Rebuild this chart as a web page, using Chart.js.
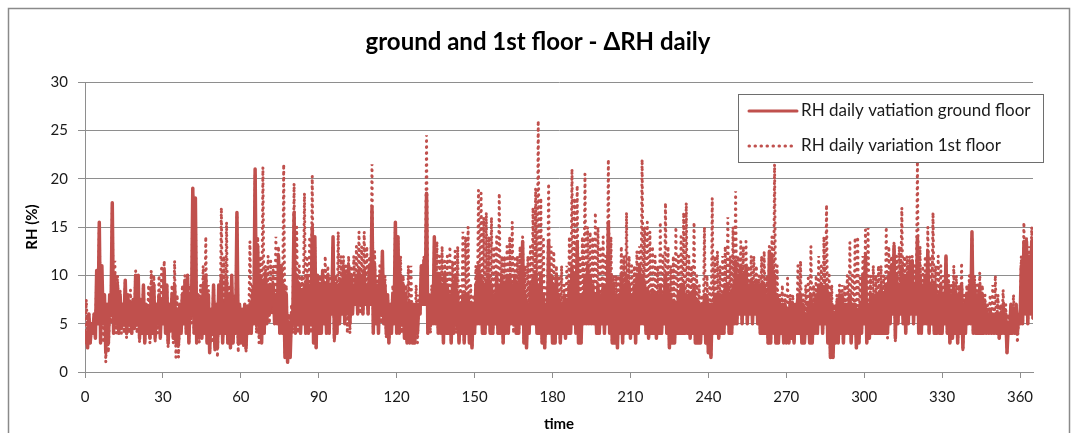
<!DOCTYPE html>
<html>
<head>
<meta charset="utf-8">
<script src="https://cdn.jsdelivr.net/npm/chart.js@4.4.1/dist/chart.umd.min.js"></script>
<style>
  html, body { margin: 0; padding: 0; background: #ffffff; }
  #wrap { width: 1074px; height: 433px; position: relative; }
</style>
</head>
<body>
<div id="wrap"><canvas id="c" width="1074" height="433"></canvas></div>
<script>
// Daily relative-humidity swing (%) over one year, two samples per day.
const chartTitle = 'ground and 1st floor - ΔRH daily';
const seriesNames = ['RH daily vatiation ground floor', 'RH daily variation 1st floor'];
const axisTitles = { x: 'time', y: 'RH (%)' };
const samplesPerDay = 2;
const dayTicks = [0, 30, 60, 90, 120, 150, 180, 210, 240, 270, 300, 330, 360];

const ground = [
  3,4,2.5,6,3,5,4,6,3.5,10.5,5,15.5,
  3,11,5,8,2,7,3,8,6,17.5,
  4,10,5,9,4,8,4.5,7,5,9.5,
  4,8,5,7,4,7.5,4.5,10,5,10,
  3.5,7.5,4,9,3,7,4,6.5,3.5,8.5,
  4,9,3.5,7,5,8,3.5,7.5,5,10.5,
  4,9,3,7,4.5,8,3.5,9,3,6.5,
  3,7,4,8,5,9.5,4,10,3,8,
  6,19,4,18,3,8,4,7.5,3.5,9,
  4,10,3,8,2,6.5,4,9,2.5,7,
  2.5,9,4,10,3,7,4,9.5,3,8,
  2.5,10,3,7,4,16.5,3,7,3,6.5,
  3,7,2.5,6.5,4,7,4,8,5,21,
  5,13,4,10,3,9.5,4,10,5,9,
  6,9,7,9,5,8,5,12,4,11,
  4,9,1.5,8,1,5,1.5,6,5,16.5,
  4,10,5,9,4,8.5,5,9,4,10,
  4,9,5,15,3,14,2.5,10,4,9,
  4,10.5,5,9,4,10,4,9,6,14,
  3.5,9,4,9,5,9.5,6,11,5,10,
  6,11,5,10,6,9,7,10,6,10.5,
  7,10,6,10.5,7,9,6,11,7,17,
  4,11,5,9,4,10,6,12.5,5,9,
  4,8,3,7,4,8,5,15.5,4,14,
  4,10,5,9,3.5,8,3,7,3,7,
  3,7,3,7,4,7,6,11,7,11.5,
  7,18.5,4,8,5,8,5,14,5,10,
  4,10,4,9,3,10,4,9,4,8,
  3,9,4,10,5,8,3,7,4,8,
  3,8,4,8,3,7,2.5,7,4,9,
  5,11,5,10,4,9,4,9.5,5,10,
  4,9,4,8,5,10,4,9,4,10,
  3,9,4,10,4,10,5,9,5,10,
  4,9,4,10.5,5,13.5,3,8,2.5,7,
  4,9,5,10,5,10,4,9,4,10,
  3,8,2.5,7,4,13.5,4,10,3,9,
  3,10,4,8,3,7,4,8,3.5,7.5,
  4,9,4,11,5,10,4,13.5,3,8,
  3,8,5,10,5,11,5,10,5,9,
  5,8,4,9,4,8,5,9,4,9,
  5,15.5,4,10,3,9,3,8,2.5,8,
  4,10,3,9,4,10,4,9,3.5,8,
  4,9,3,10,4,11,5,10,5,9,
  4,8.5,3.5,8,4,8.5,4,8,3.5,8,
  4,9,4,8,5,10,4,9,2.5,8,
  3,7,3,7,4,8,4,9,4,9,
  4,8,4,8,3.5,8,4,9,3,7.5,
  3,7,3,7,4,8,3,7.5,2,7,
  1.5,7,4,8,4,8,3.5,8,4,8,
  4,9,5,9,4,8,4,9,5,11.5,
  5,10,6,11,5,10,6,11,5,9,
  6,9.5,5,9,6,9.5,5,9,4,9,
  4,9,4,8,3,12.5,3,12,4,10,
  3,8,3,7,4,7,3,7,3,6.5,
  3,7,3.5,7,3,7,4,8,4,8,
  3,7,3,6,4,7,3,8,3,7,
  4,8,4,9,5,9,4,8.5,5,9,
  3,8,1.5,7,1.5,6,3,7,3,8,
  4,8,3,7,4,7,4,8,3,7,
  4,7,2.5,6.5,3,7,4,10,5,12,
  3,7,3.5,8,4,8,4,8,4,8,
  4,9,4,8,4,9,4,10,5,11,
  6,13,3.5,10,5,9,6,11,5,10,
  4,10,5,11,6,11.5,5,9,6,14,
  4,10,4,9,5,10,5,12.5,4,9,
  5,9,4,9,4,8,4,9,4,8,
  5,12,4,9,3,8,3.5,9,4,8,
  3,8,4,9,2.5,7,4,8,5,9,
  5,14.5,4,9,4,8,4,9,4,8,
  4,7,4,6,4,6.5,4,6,4,6,
  4,6,3.5,6,4,7,4,6,2,5,
  4,7,4,6.5,4,7,4,6,5,11,
  5,13.5,6,13.5,5,12,6,13.5,5.5,10
];

const firstFloor = [
  3,7.5,4,6,3,5,4,6,4,10,5,15,
  4,9,3,8,1,6,2,7,5,17,
  4,11.5,4,10,4,8.5,4,7,4,9.5,
  3.5,7,4,8.5,4,6,5,10.5,4,10,
  3,7,4,9,3,6,4,9,3,10.5,
  4,10,3,7,4,10,4,11,5,11.5,
  4,9,2.5,7,4,9,3,11.5,1.5,8,
  1.5,7,4,9,5,10,4,10,3,9,
  5,18.5,4,17.5,3,8,3,9,4,11,
  4,14,3,9,2,6,3,9,2,7,
  1.5,8,4,17,3,12,4,15.5,3,9,
  2.5,9,3,8,4,16,2,7,3,6,
  2.5,6,2,7,4,13.5,4,9,5,20.5,
  4,14,3,12,4,21.2,4,11,5,12,
  5,11.5,6,11,5,14,5,13,4,11,
  4,21.5,2,9,1,6,1.5,7,4,19.5,
  4,15,4,11,5,10,6,18.5,4,12,
  4,14,4,20.3,3.5,13,2.5,9,4,10,
  5,10.5,5,12,4,11,4,10,6,13,
  3,10,4,14.5,5,12,6,12,5,11,
  4,12,4,11,6,12,7,13,6,14.5,
  6,13,6,14.5,7,13,6,12,7,21.5,
  4,12.5,5,10,4,11,5,12,5,10,
  3.5,8,3,7,4,9,5,15,4,14,
  4,12,4,10,3.5,9,3,11,3,11,
  3,7,4,9,3,8,6,11,7,12,
  7,24.5,4,7,4,9,5,13,5,13.5,
  4,12,4,13,3,11.5,4,12,4,13,
  3,11.5,4,12.5,4,13,3,9,4,14.5,
  3,14,4,15,3,9,2.5,8,4,11,
  5,18.8,5,18.5,4,16,4,16.5,5,14,
  4,16,4,13,5,14,4,18.5,4,12,
  3,12,4,13,4,14,5,15.5,4,12,
  4,12,4,13,5,14,3,11,2.5,12,
  4,13,5,17,5,19,5,26,4,18,
  3,14,2.5,9,4,19.5,4,13,3,12.5,
  3,11,4,10,3,11,4,9,3.5,11,
  4,14,5,21,5,18,4,19.3,3,12,
  3,14,5,20.5,5,15,5,14.5,5,14,
  5,16.5,4,15,4,13,5,14,4,12,
  5,22,4,14,3,10,3,10,2.5,10,
  4,13,3,12,4,16.5,4,12,3.5,11,
  4,11,3,12.5,4,13,5,22,5,15,
  4,15.5,3.5,14.5,4,13,4,12,3.5,11,
  4,15.5,4,12,5,17.5,4,13,2.5,11,
  3,12,3,15,4,12,4,14,4,16.5,
  4,17.5,4,12,3.5,11,4,15.5,3,10,
  3,9,3,8,4,15,3,10,2,9,
  1.5,18,4,12,4,12.5,3.5,11,4,12,
  4,13,5,16,4,12,4,15,5,18.7,
  5,12,6,13.5,5,13,6,13.5,5,11,
  6,12,5,12,6,11,5,10,4,12,
  4,12.5,4,10,3,13,3,14,4,21.5,
  3,11,3,8,4,9,3,8,3,9.7,
  3,8,3.5,8,3,7,4,11,4,11.5,
  3,8,3,9,4,10,3,13,3,9,
  4,10,4,12,5,11,4,14,5,17.3,
  3,10,1.5,9,1.5,7,3,8,3,9,
  4,9,3,9,4,10,4,13.4,3,10,
  4,13.9,2.5,14,3,10,4,12,5,14.7,
  3,14.9,3.5,10,4,11,4,10,4,11,
  4,11,4,10,4,15,3.5,13,5,12,
  6,13.5,3.2,12,5,13,8,17,5,12,
  4,12,5,12,6,12,5,11,6,21.8,
  4,13,4,11,5,12,5,15,4,12,
  5,16.5,4,11,4,12,4,11,4,10,
  5,12,4,10,3,9,3.5,11,4,10,
  3,9,4,11.3,2.1,8,4,9,5,10,
  5,14,4,10,4,9,4,10.3,4,9,
  4,8,4,7,4,8,4,9,4,10,
  4,8,3.5,7,4,8.5,4,7,2,6,
  4,7,4,8,4,7,3,6,5,12,
  5,15.5,6,14,5,13,6,15,5.5,12
];

const RED = '#C0504D';
const GRID = '#8E8E8E';
const FONT = "Lato, 'Open Sans', 'Liberation Sans', sans-serif";

const toPoints = arr => arr.map((v, i) => ({ x: i / samplesPerDay, y: v }));

// Outer frame, chart title and the boxed legend in the upper-right corner.
const decorations = {
  id: 'decorations',
  beforeDraw(chart) {
    const ctx = chart.ctx;
    ctx.save();
    ctx.fillStyle = '#ffffff';
    ctx.fillRect(0, 0, chart.width, chart.height);
    ctx.strokeStyle = '#8A8A8A';
    ctx.lineWidth = 1.5;
    ctx.strokeRect(8.5, 8.5, 1061, 440);
    ctx.fillStyle = '#000000';
    ctx.font = "bold 24px " + FONT;
    ctx.textAlign = 'center';
    ctx.textBaseline = 'middle';
    ctx.fillText(chartTitle, 538, 42);
    ctx.restore();
  },
  afterDatasetsDraw(chart) {
    const ctx = chart.ctx;
    const box = { x: 738.5, y: 94.5, w: 305, h: 68 };
    ctx.save();
    ctx.fillStyle = '#ffffff';
    ctx.fillRect(box.x, box.y, box.w, box.h);
    ctx.strokeStyle = '#6E6E6E';
    ctx.lineWidth = 1;
    ctx.strokeRect(box.x, box.y, box.w, box.h);
    const rows = [111, 146];
    chart.data.datasets.forEach((ds, i) => {
      const y = rows[i];
      ctx.beginPath();
      ctx.strokeStyle = ds.borderColor;
      ctx.lineWidth = 3;
      ctx.lineCap = 'round';
      ctx.setLineDash(ds.borderDash || []);
      ctx.moveTo(749, y);
      ctx.lineTo(797, y);
      ctx.stroke();
      ctx.setLineDash([]);
      ctx.fillStyle = '#1a1a1a';
      ctx.font = "17px " + FONT;
      ctx.textAlign = 'left';
      ctx.textBaseline = 'middle';
      ctx.fillText(ds.label, 801, y);
    });
    ctx.restore();
  }
};

new Chart(document.getElementById('c'), {
  type: 'line',
  data: {
    datasets: [
      {
        label: seriesNames[0],
        data: toPoints(ground),
        borderColor: RED,
        backgroundColor: RED,
        borderWidth: 3.5,
        pointRadius: 0,
        tension: 0,
        borderJoinStyle: 'round'
      },
      {
        label: seriesNames[1],
        data: toPoints(firstFloor),
        borderColor: RED,
        backgroundColor: RED,
        borderWidth: 3,
        borderDash: [0.5, 5.5],
        borderCapStyle: 'round',
        pointRadius: 0,
        tension: 0
      }
    ]
  },
  options: {
    responsive: false,
    animation: false,
    devicePixelRatio: 1,
    layout: { padding: { top: 82, right: 41, bottom: 0, left: 0 } },
    plugins: {
      legend: { display: false },
      title: { display: false },
      tooltip: { enabled: false }
    },
    scales: {
      x: {
        type: 'linear',
        min: 0,
        max: 365,
        afterFit(s) { s.height = 61; },
        afterBuildTicks(s) { s.ticks = dayTicks.map(v => ({ value: v })); },
        ticks: {
          padding: 10,
          maxRotation: 0,
          autoSkip: false,
          color: '#1a1a1a',
          font: { family: FONT, size: 15 }
        },
        grid: {
          display: true,
          drawOnChartArea: false,
          drawTicks: true,
          tickLength: 6,
          color: GRID
        },
        border: { display: true, color: GRID, width: 1 },
        title: {
          display: true,
          text: axisTitles.x,
          color: '#000000',
          font: { family: FONT, size: 15, weight: 'bold' },
          padding: { top: 0, bottom: 0 }
        }
      },
      y: {
        min: 0,
        max: 30,
        afterFit(s) { s.width = 85; },
        ticks: {
          stepSize: 5,
          padding: 10,
          color: '#1a1a1a',
          font: { family: FONT, size: 15 }
        },
        grid: {
          color: GRID,
          lineWidth: 1,
          drawTicks: true,
          tickLength: 7
        },
        border: { display: true, color: GRID, width: 1 },
        title: {
          display: true,
          text: axisTitles.y,
          color: '#000000',
          font: { family: FONT, size: 15, weight: 'bold' },
          padding: { top: 23, bottom: 0 }
        }
      }
    }
  },
  plugins: [decorations]
});
</script>
</body>
</html>
